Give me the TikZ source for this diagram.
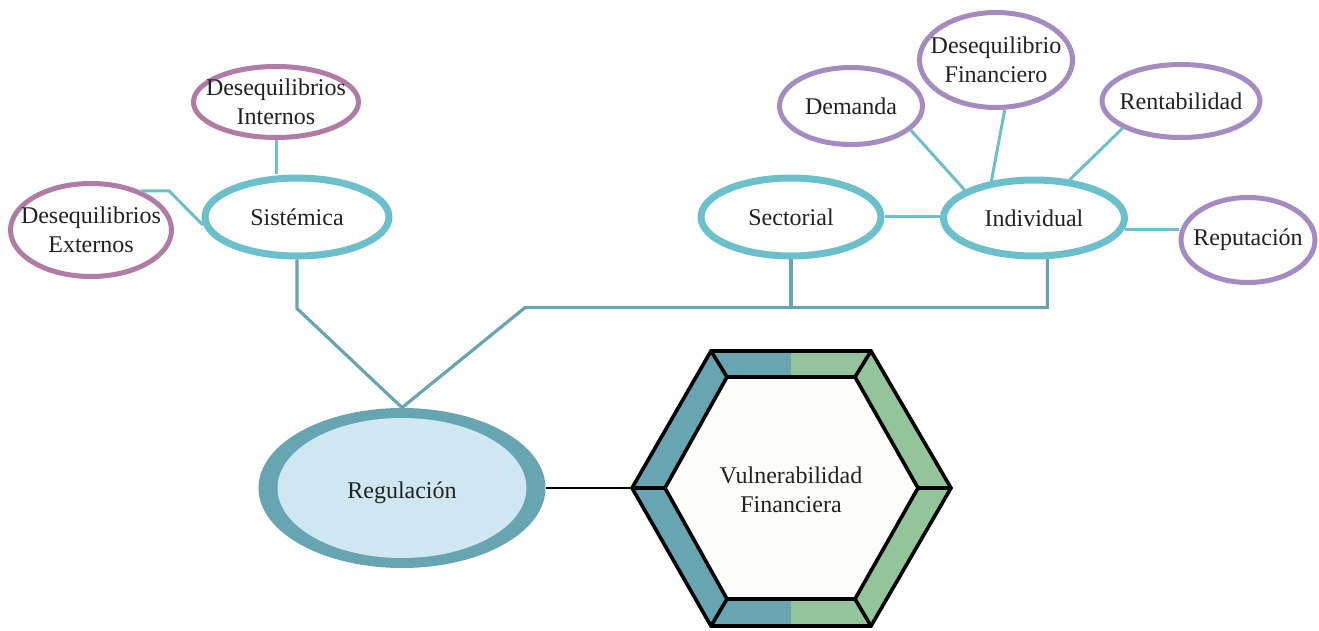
\documentclass[tikz,border=0pt]{standalone}
\usepackage{fontspec}
\setmainfont{Liberation Serif}
\usetikzlibrary{shapes.geometric}
\usepackage{xcolor}
\definecolor{topteal}{HTML}{6CC0CB}
\definecolor{deepteal}{HTML}{68A5B3}
\definecolor{mauve}{HTML}{B07BA5}
\definecolor{lilac}{HTML}{A48CC0}
\definecolor{sage}{HTML}{93C49A}
\definecolor{regfill}{HTML}{CFE7F0}
\definecolor{hexfill}{HTML}{FDFDFB}
\definecolor{textgray}{HTML}{222222}

\begin{document}
\begin{tikzpicture}[x=0.5pt,y=-0.5pt]
    \tikzset{txt/.style = {align=center,
        font=\fontsize{12}{14.5}\selectfont,
        text=textgray, inner sep=0pt}}
    \tikzset{branch/.style = {shape=ellipse,draw=topteal,line width=3.5pt,fill=white,inner sep=0pt}}
    \tikzset{leafA/.style = {shape=ellipse,draw=mauve,line width=2.5pt,fill=white,inner sep=0pt}}
    \tikzset{leafB/.style = {shape=ellipse,draw=lilac,line width=2.5pt,fill=white,inner sep=0pt}}
    \tikzset{regring/.style = {shape=ellipse,fill=deepteal,inner sep=0pt,
        path picture={\fill[regfill] (path picture bounding box.center) ellipse [x radius=62.25pt, y radius=35pt];}}}
    \tikzset{twig/.style = {draw=topteal,line width=1.5pt}}
    \tikzset{trunk/.style = {draw=deepteal,line width=1.6pt,line join=miter}}
    \tikzset{hexline/.style = {draw=black,line width=1.8pt,line join=miter}}
    \useasboundingbox (0,0) rectangle (1319,631);

    % vertices
    \node[leafA, minimum width=82.5pt, minimum height=35.5pt, label={[txt]center:Desequilibrios\\Internos}] (int) at (276,102) {};
    \node[leafA, minimum width=80.5pt, minimum height=46.5pt, label={[txt]center:Desequilibrios\\Externos}] (ext) at (91,230) {};
    \node[branch, minimum width=92pt, minimum height=39pt, label={[txt]center:Sistémica}] (sis) at (297,217) {};
    \node[branch, minimum width=90pt, minimum height=39pt, label={[txt]center:Sectorial}] (sec) at (791,217) {};
    \node[branch, minimum width=90.5pt, minimum height=38pt, label={[txt]center:Individual}] (ind) at (1034,218) {};
    \node[leafB, minimum width=71.5pt, minimum height=38.5pt, label={[txt]center:Demanda}] (dem) at (851,106) {};
    \node[leafB, minimum width=76.5pt, minimum height=47.5pt, label={[txt]center:Desequilibrio\\Financiero}] (fin) at (996,60) {};
    \node[leafB, minimum width=79pt, minimum height=36.5pt, label={[txt]center:Rentabilidad}] (ren) at (1181,101) {};
    \node[leafB, minimum width=67pt, minimum height=42.5pt, label={[txt]center:Reputación}] (rep) at (1248,240) {};
    \node[regring, minimum width=143.5pt, minimum height=80pt, label={[txt,yshift=-2.5pt]center:Regulación}] (reg) at (402,488) {};

    % hexagon
    \coordinate (oW) at (632,488);  \coordinate (iW) at (665,488);
    \coordinate (oNW) at (711,351); \coordinate (iNW) at (727,377);
    \coordinate (oNE) at (871,351); \coordinate (iNE) at (855,377);
    \coordinate (oE) at (951,488);  \coordinate (iE) at (918,488);
    \coordinate (oSE) at (871,626); \coordinate (iSE) at (855,599);
    \coordinate (oSW) at (711,626); \coordinate (iSW) at (727,599);
    \fill[deepteal] (oNW) -- (791,351) -- (791,377) -- (iNW) -- (iW) -- (iSW) -- (791,599) -- (791,626) -- (oSW) -- (oW) -- cycle;
    \fill[sage] (oNE) -- (791,351) -- (791,377) -- (iNE) -- (iE) -- (iSE) -- (791,599) -- (791,626) -- (oSE) -- (oE) -- cycle;
    \fill[hexfill] (iW) -- (iNW) -- (iNE) -- (iE) -- (iSE) -- (iSW) -- cycle;
    \draw[hexline] (oW) -- (oNW) -- (oNE) -- (oE) -- (oSE) -- (oSW) -- cycle;
    \draw[hexline] (iW) -- (iNW) -- (iNE) -- (iE) -- (iSE) -- (iSW) -- cycle;
    \foreach \v in {W,NW,NE,E,SE,SW}
        \draw[hexline] (o\v) -- (i\v);
    \node[txt] (vul) at (791,490) {Vulnerabilidad\\Financiera};

    %edges
    \draw[twig] (int.south) -- (int.south |- sis.north);
    \draw[twig] (ext.38) -- ++(28,0) -- (sis.185);
    \draw[twig] (sec.east) -- (sec.east -| ind.west);
    \draw[twig] (ind.-7) -- (ind.-7 -| rep.west);
    \draw[twig] (dem.-22) -- (ind.158);
    \draw[twig] (fin.-80) -- (ind.139);
    \draw[twig] (ren.205) -- (ind.47);
    \draw[trunk] (sis.south) -- ++(0,49) -- (reg.north);
    \draw[trunk] (reg.north) -- ++(123,-100) coordinate (knee) -| (ind.-72);
    \draw[trunk] (sec.south) -- (sec.south |- knee);
    \draw[black, line width=1pt] (reg.east) -- (oW);
\end{tikzpicture}
\end{document}
